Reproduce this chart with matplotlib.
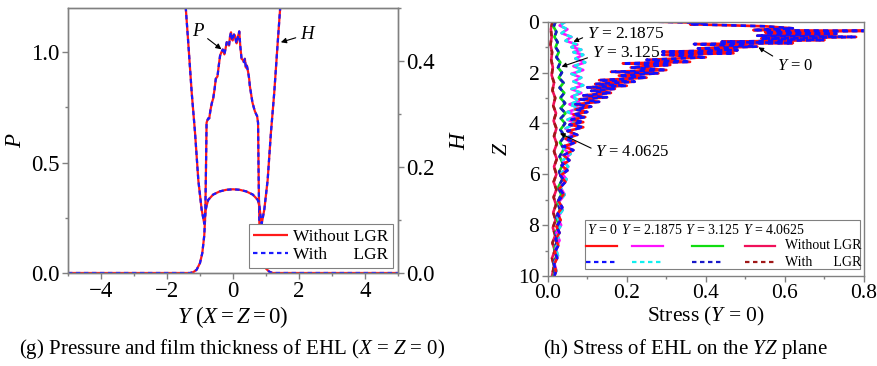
import matplotlib
matplotlib.use('Agg')
import matplotlib.pyplot as plt
from matplotlib.lines import Line2D
from matplotlib.patches import Rectangle
from matplotlib.ticker import MultipleLocator, FormatStrFormatter

plt.rcParams['font.family'] = ['Liberation Serif', 'DejaVu Serif']
plt.rcParams['mathtext.fontset'] = 'custom'
plt.rcParams['mathtext.rm'] = 'Liberation Serif'
plt.rcParams['mathtext.it'] = 'Liberation Serif:italic'
plt.rcParams['axes.unicode_minus'] = True

# ---------------- (g) pressure and film thickness ----------------
p_y = [-5.0, -1.30, -1.20, -1.10, -1.00, -0.93, -0.87, -0.84, -0.82, -0.80, -0.78, -0.75,
       -0.72, -0.68, -0.64, -0.60, -0.56, -0.52, -0.47, -0.43, -0.39, -0.35, -0.31,
       -0.26, -0.22, -0.19, -0.15, -0.12, -0.09, -0.06, -0.03, -0.01, 0.03, 0.06,
       0.09, 0.11, 0.15, 0.19, 0.22, 0.26, 0.30, 0.33, 0.36, 0.39, 0.42, 0.46, 0.49,
       0.51, 0.55, 0.59, 0.63, 0.66, 0.70, 0.73, 0.76, 0.78, 0.80, 0.83, 0.87, 0.93,
       1.00, 1.10, 1.20, 1.30, 5.0]
p_val = [0.0, 0.0, 0.004, 0.015, 0.045, 0.09, 0.17, 0.26, 0.45, 0.68, 0.69, 0.70,
         0.70, 0.74, 0.77, 0.79, 0.83, 0.88, 0.89, 0.94, 0.985, 1.00, 1.012,
         0.99, 1.02, 1.045, 1.04, 1.03, 1.07, 1.09, 1.06, 1.053, 1.08, 1.076,
         1.05, 1.04, 1.07, 1.094, 1.03, 0.97, 0.965, 0.955, 0.97, 0.93, 0.94, 0.909, 0.88,
         0.848, 0.81, 0.772, 0.75, 0.734, 0.72, 0.711, 0.68, 0.40, 0.22, 0.15, 0.10, 0.05,
         0.02, 0.006, 0.0, 0.0, 0.0]

h_y = [-1.50, -1.43, -1.35, -1.25, -1.15, -1.05, -0.95, -0.87, -0.84, -0.80, -0.75,
       -0.60, -0.40, -0.20, 0.0, 0.20, 0.40, 0.60, 0.75, 0.80, 0.84, 0.87, 0.95,
       1.05, 1.15, 1.25, 1.35, 1.43, 1.50]
h_val = [0.58, 0.50, 0.43, 0.34, 0.265, 0.175, 0.12, 0.093, 0.115, 0.127, 0.138,
         0.148, 0.154, 0.157, 0.158, 0.157, 0.154, 0.148, 0.138, 0.127, 0.105, 0.093, 0.12,
         0.175, 0.265, 0.34, 0.43, 0.50, 0.58]

# ---------------- (h) stress on YZ plane ----------------
z0 = [0.00, 0.05, 0.10, 0.18, 0.26, 0.33, 0.36, 0.42, 0.48, 0.55, 0.60, 0.66, 0.72,
      0.79, 0.84, 0.88, 0.98, 1.05, 1.12, 1.18, 1.24, 1.30, 1.40, 1.50, 1.58, 1.64,
      1.70, 1.80, 1.90, 1.97, 2.03, 2.12, 2.20, 2.30, 2.36, 2.45, 2.52, 2.58, 2.64,
      2.72, 2.80, 2.90, 2.97, 3.05, 3.15, 3.25, 3.34, 3.45, 3.55, 3.65, 3.75, 3.85,
      3.95, 4.05, 4.15, 4.30, 4.45, 4.60, 4.75, 4.90, 5.05, 5.25, 5.45, 5.65, 5.85,
      6.05, 6.30, 6.55, 6.80, 7.05, 7.30, 7.55, 7.80, 8.05, 8.30, 8.55, 8.80, 9.05,
      9.30, 9.55, 9.80, 10.0]
s0 = [0.28, 0.40, 0.36, 0.55, 0.62, 0.52, 0.80, 0.55, 0.73, 0.53, 0.78, 0.54, 0.70,
      0.44, 0.62, 0.37, 0.53, 0.38, 0.48, 0.29, 0.47, 0.29, 0.40, 0.25, 0.36, 0.19,
      0.31, 0.21, 0.30, 0.16, 0.28, 0.18, 0.25, 0.13, 0.22, 0.12, 0.20, 0.10, 0.17,
      0.11, 0.16, 0.09, 0.15, 0.08, 0.13, 0.07, 0.11, 0.07, 0.10, 0.065, 0.095, 0.06,
      0.09, 0.055, 0.09, 0.05, 0.075, 0.045, 0.07, 0.04, 0.065, 0.04, 0.055, 0.035, 0.05,
      0.032, 0.045, 0.03, 0.04, 0.027, 0.037, 0.025, 0.033, 0.022, 0.03, 0.02, 0.027, 0.018,
      0.024, 0.016, 0.021, 0.017]

z1 = [0.0, 0.15, 0.3, 0.45, 0.6, 0.75, 0.9, 1.0, 1.1, 1.2, 1.3, 1.45, 1.6, 1.75, 1.9,
      2.05, 2.2, 2.35, 2.5, 2.65, 2.8, 2.95, 3.1, 3.25, 3.4, 3.55, 3.7, 3.85, 4.0, 4.2,
      4.4, 4.6, 4.8, 5.0, 5.2, 5.45, 5.7, 5.95, 6.2, 6.5, 6.8, 7.1, 7.4, 7.7, 8.0, 8.3,
      8.6, 8.9, 9.2, 9.5, 9.8, 10.0]
s1 = [0.045, 0.03, 0.05, 0.035, 0.06, 0.045, 0.075, 0.06, 0.085, 0.065, 0.09, 0.07,
      0.095, 0.065, 0.09, 0.06, 0.085, 0.065, 0.09, 0.06, 0.085, 0.06, 0.08, 0.055, 0.08,
      0.05, 0.075, 0.05, 0.07, 0.045, 0.065, 0.045, 0.062, 0.04, 0.058, 0.038, 0.052,
      0.035, 0.048, 0.032, 0.043, 0.028, 0.038, 0.025, 0.034, 0.022, 0.03, 0.02, 0.026,
      0.017, 0.022, 0.016]

z2 = [0.0, 0.2, 0.4, 0.6, 0.8, 1.0, 1.2, 1.4, 1.6, 1.8, 2.0, 2.2, 2.4, 2.6, 2.8, 3.0,
      3.2, 3.4, 3.6, 3.8, 4.0, 4.25, 4.5, 4.75, 5.0, 5.3, 5.6, 5.9, 6.2, 6.5, 6.8, 7.1,
      7.4, 7.7, 8.0, 8.3, 8.6, 8.9, 9.2, 9.5, 9.8, 10.0]
s2 = [0.02, 0.015, 0.022, 0.017, 0.025, 0.02, 0.028, 0.022, 0.032, 0.026, 0.036, 0.028,
      0.04, 0.03, 0.042, 0.032, 0.044, 0.033, 0.045, 0.033, 0.044, 0.032, 0.043, 0.031,
      0.041, 0.03, 0.039, 0.029, 0.037, 0.027, 0.034, 0.025, 0.031, 0.022, 0.028, 0.02,
      0.025, 0.017, 0.022, 0.015, 0.019, 0.014]

z3 = [0.0, 0.3, 0.6, 0.9, 1.2, 1.5, 1.8, 2.1, 2.4, 2.7, 3.0, 3.3, 3.6, 3.9, 4.2, 4.5,
      4.8, 5.1, 5.4, 5.7, 6.0, 6.3, 6.6, 6.9, 7.2, 7.5, 7.8, 8.1, 8.4, 8.7, 9.0, 9.3,
      9.6, 10.0]
s3 = [0.012, 0.008, 0.01, 0.007, 0.011, 0.009, 0.013, 0.01, 0.016, 0.012, 0.019, 0.014,
      0.021, 0.015, 0.022, 0.016, 0.023, 0.016, 0.023, 0.016, 0.022, 0.015, 0.022, 0.015,
      0.021, 0.014, 0.02, 0.013, 0.019, 0.012, 0.018, 0.011, 0.016, 0.011]

series_labels = [r'$Y$ = 0', r'$Y$ = 2.1875', r'$Y$ = 3.125', r'$Y$ = 4.0625']
solid_colors = ['#ff1010', '#ff10ff', '#10dd10', '#f0105a']
dash_colors = ['#1010ff', '#10f0f0', '#1818c8', '#a01818']

GRAY = '#808080'
fig = plt.figure(figsize=(8.78, 3.66), dpi=100)

def style_axes(ax, size):
    for sp in ax.spines.values():
        sp.set_color(GRAY)
        sp.set_linewidth(1.0)
    ax.tick_params(which='both', direction='out', color=GRAY, width=1.0, labelsize=size, pad=2)
    ax.tick_params(which='major', length=4)
    ax.tick_params(which='minor', length=2.5)

DASH = (2.0, 1.6)

# left panel
ax1 = fig.add_axes([0.0774, 0.2541, 0.3759, 0.7240])
ax2 = ax1.twinx()
l1, = ax1.plot(p_y, p_val, color='#ff1a1a', lw=1.6, solid_capstyle='butt')
l2, = ax1.plot(p_y, p_val, color='#1a1aff', lw=1.6, dashes=DASH)
ax2.plot(h_y, h_val, color='#ff1a1a', lw=1.6)
ax2.plot(h_y, h_val, color='#1a1aff', lw=1.6, dashes=DASH)
ax1.set_xlim(-5, 5)
ax1.set_ylim(0, 1.2)
ax2.set_ylim(0, 0.5)
ax1.xaxis.set_major_locator(MultipleLocator(2))
ax1.xaxis.set_minor_locator(MultipleLocator(1))
ax1.yaxis.set_major_locator(MultipleLocator(0.5))
ax1.yaxis.set_minor_locator(MultipleLocator(0.25))
ax1.yaxis.set_major_formatter(FormatStrFormatter('%.1f'))
ax2.yaxis.set_major_locator(MultipleLocator(0.2))
ax2.yaxis.set_minor_locator(MultipleLocator(0.1))
ax2.yaxis.set_major_formatter(FormatStrFormatter('%.1f'))
style_axes(ax1, 16.5)
style_axes(ax2, 16.5)
ax1.set_xlabel(r'$Y\ (X = Z = 0)$', fontsize=16.5, labelpad=1)
ax1.set_ylabel(r'$P$', fontsize=16.5, labelpad=4)
ax2.set_ylabel(r'$H$', fontsize=16.5, labelpad=10)

ax1.annotate('P', xy=(-0.35, 1.013), xytext=(-1.06, 1.095), fontsize=13.5, style='italic',
             ha='center', va='center',
             arrowprops=dict(arrowstyle='-|>', color='k', lw=0.8, mutation_scale=8,
                             shrinkA=1, shrinkB=0))
ax1.annotate('H', xy=(1.45, 1.045), xytext=(2.23, 1.08), fontsize=13.5, style='italic',
             ha='center', va='center',
             arrowprops=dict(arrowstyle='-|>', color='k', lw=0.8, mutation_scale=8,
                             shrinkA=1, shrinkB=0))

leg = ax2.legend([l1, l2], ['Without LGR', 'With      LGR'], loc='lower right',
                 fontsize=12.5, frameon=True, fancybox=False, framealpha=1,
                 edgecolor=GRAY, borderpad=0.25, handlelength=2.0, handletextpad=0.3,
                 labelspacing=0.15, borderaxespad=0.3)
leg.get_frame().set_linewidth(0.8)

fig.text(0.265, 1 - 349 / 366, r'(g) Pressure and film thickness of EHL ($X$ = $Z$ = 0)',
         ha='center', va='center', fontsize=15)

# right panel
ax3 = fig.add_axes([0.6238, 0.2459, 0.3603, 0.6948])
zs = [z0, z1, z2, z3]
ss = [s0, s1, s2, s3]
for k in [3, 2, 1, 0]:
    ax3.plot(ss[k], zs[k], color=solid_colors[k], lw=1.9)
    ax3.plot(ss[k], zs[k], color=dash_colors[k], lw=1.9, dashes=DASH)
ax3.set_xlim(0, 0.8)
ax3.set_ylim(10, 0)
ax3.xaxis.set_major_locator(MultipleLocator(0.2))
ax3.xaxis.set_minor_locator(MultipleLocator(0.1))
ax3.xaxis.set_major_formatter(FormatStrFormatter('%.1f'))
ax3.yaxis.set_major_locator(MultipleLocator(2))
ax3.yaxis.set_minor_locator(MultipleLocator(1))
style_axes(ax3, 15.5)
ax3.set_xlabel(r'Stress ($Y$ = 0)', fontsize=15.5, labelpad=1)
ax3.set_ylabel(r'$Z$', fontsize=15.5, labelpad=4)

arrow_kw = dict(arrowstyle='-|>', color='k', lw=0.8, mutation_scale=7, shrinkA=1, shrinkB=0)
ax3.annotate(r'$Y$ = 2.1875', xy=(0.065, 0.79), xytext=(0.0986, 0.50), fontsize=12.5,
             ha='left', va='center', arrowprops=dict(relpos=(0, 0.4), **arrow_kw))
ax3.annotate(r'$Y$ = 3.125', xy=(0.035, 1.77), xytext=(0.111, 1.24), fontsize=12.5,
             ha='left', va='center', arrowprops=dict(relpos=(0, 0.3), **arrow_kw))
ax3.annotate(r'$Y$ = 0', xy=(0.533, 1.01), xytext=(0.579, 1.74), fontsize=12,
             ha='left', va='center', arrowprops=dict(relpos=(0.05, 0.9), **arrow_kw))
ax3.annotate(r'$Y$ = 4.0625', xy=(0.031, 4.39), xytext=(0.12, 5.11), fontsize=12,
             ha='left', va='center', arrowprops=dict(relpos=(0, 0.6), **arrow_kw))

# custom legend box
T = ax3.transAxes
ax3.add_patch(Rectangle((0.118, 0.026), 0.869, 0.194, transform=T, facecolor='white',
                        edgecolor=GRAY, lw=0.8, zorder=5))
head_x = [0.123, 0.231, 0.434, 0.616]
line_x = [(0.120, 0.218), (0.268, 0.365), (0.455, 0.553), (0.624, 0.719)]
for k in range(4):
    ax3.text(head_x[k], 0.181, series_labels[k], transform=T, fontsize=10, ha='left',
             va='center', zorder=6)
    ax3.add_line(Line2D(line_x[k], [0.118, 0.118], transform=T, color=solid_colors[k],
                        lw=1.6, zorder=6))
    ax3.add_line(Line2D(line_x[k], [0.055, 0.055], transform=T, color=dash_colors[k],
                        lw=1.6, dashes=DASH, zorder=6))
ax3.text(0.750, 0.118, 'Without LGR', transform=T, fontsize=10, ha='left', va='center', zorder=6)
ax3.text(0.750, 0.055, 'With      LGR', transform=T, fontsize=10, ha='left', va='center', zorder=6)

fig.text(0.781, 1 - 349 / 366, r'(h) Stress of EHL on the $YZ$ plane',
         ha='center', va='center', fontsize=15)

fig.savefig('out.png', dpi=100)
